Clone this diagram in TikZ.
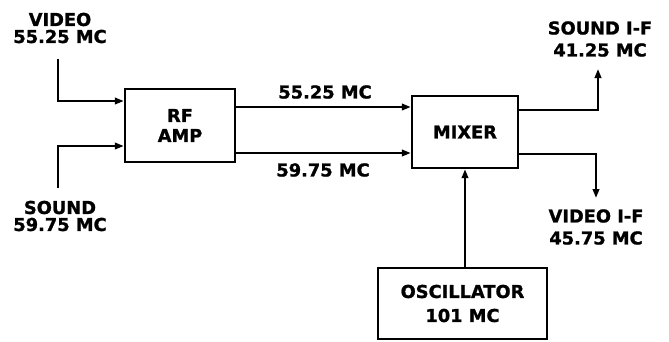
\documentclass[tikz,border=0pt]{standalone}
\usepackage{fontspec}
\setmainfont{DejaVu Sans}[BoldFeatures={FakeBold=1.2}]
\usetikzlibrary{positioning, arrows.meta, calc}
\tikzset{
  block/.style={rectangle, draw=black, line width=2.4pt, inner sep=0pt, text centered, align=center, font=\bfseries\fontsize{17.8}{20}\selectfont},
  freq/.style={inner sep=0pt, align=center, font=\bfseries\fontsize{17.8}{17}\selectfont},
  arrow/.style={line width=2.2pt, -{Triangle[length=9pt,width=6.5pt]}}
}
\begin{document}
\begin{tikzpicture}[x=1pt,y=-1pt]
        \useasboundingbox (0,0) rectangle (669,341);

        % Bloques del receptor
        \node (rfamp) [block, minimum width=110pt, minimum height=73pt] at (180,125.5) {RF\\AMP};
        \node (mixer) [block, minimum width=106pt, minimum height=72pt] at (465,132) {MIXER};
        \node (osc) [block, minimum width=169pt, minimum height=71pt] at (462.5,303.5) {OSCILLATOR\\[4pt]101 MC};

        % Textos de frecuencias
        \node (vidin) [freq] at (60,28) {VIDEO\\55.25 MC};
        \node (sndin) [freq] at (60,216) {SOUND\\59.75 MC};
        \node (vidmid) [freq] at (325,92) {55.25 MC};
        \node (sndmid) [freq] at (323,170) {59.75 MC};
        \node (sndif) [freq, font=\bfseries\fontsize{17.8}{22}\selectfont] at (600,39) {SOUND I-F\\41.25 MC};
        \node (vidif) [freq, font=\bfseries\fontsize{17.8}{22}\selectfont] at (596,227) {VIDEO I-F\\45.75 MC};

        \coordinate (vidtop) at (58,59);
        \coordinate (sndbot) at (58,188);
        \coordinate (sifend) at (598,69);
        \coordinate (vifend) at (596,198);

        % Conexiones
        \draw [arrow] (vidtop) |- (rfamp.west |- 0,101);
        \draw [arrow] (sndbot) |- (rfamp.west |- 0,146);
        \draw [arrow] (rfamp.east |- 0,107) -- (mixer.west |- 0,107);
        \draw [arrow] (rfamp.east |- 0,153) -- (mixer.west |- 0,153);
        \draw [arrow] (mixer.east |- 0,110) -| (sifend);
        \draw [arrow] (mixer.east |- 0,154) -| (vifend);
        \draw [arrow] (osc.north -| mixer.south) -- (mixer.south);
    \end{tikzpicture}
\end{document}
